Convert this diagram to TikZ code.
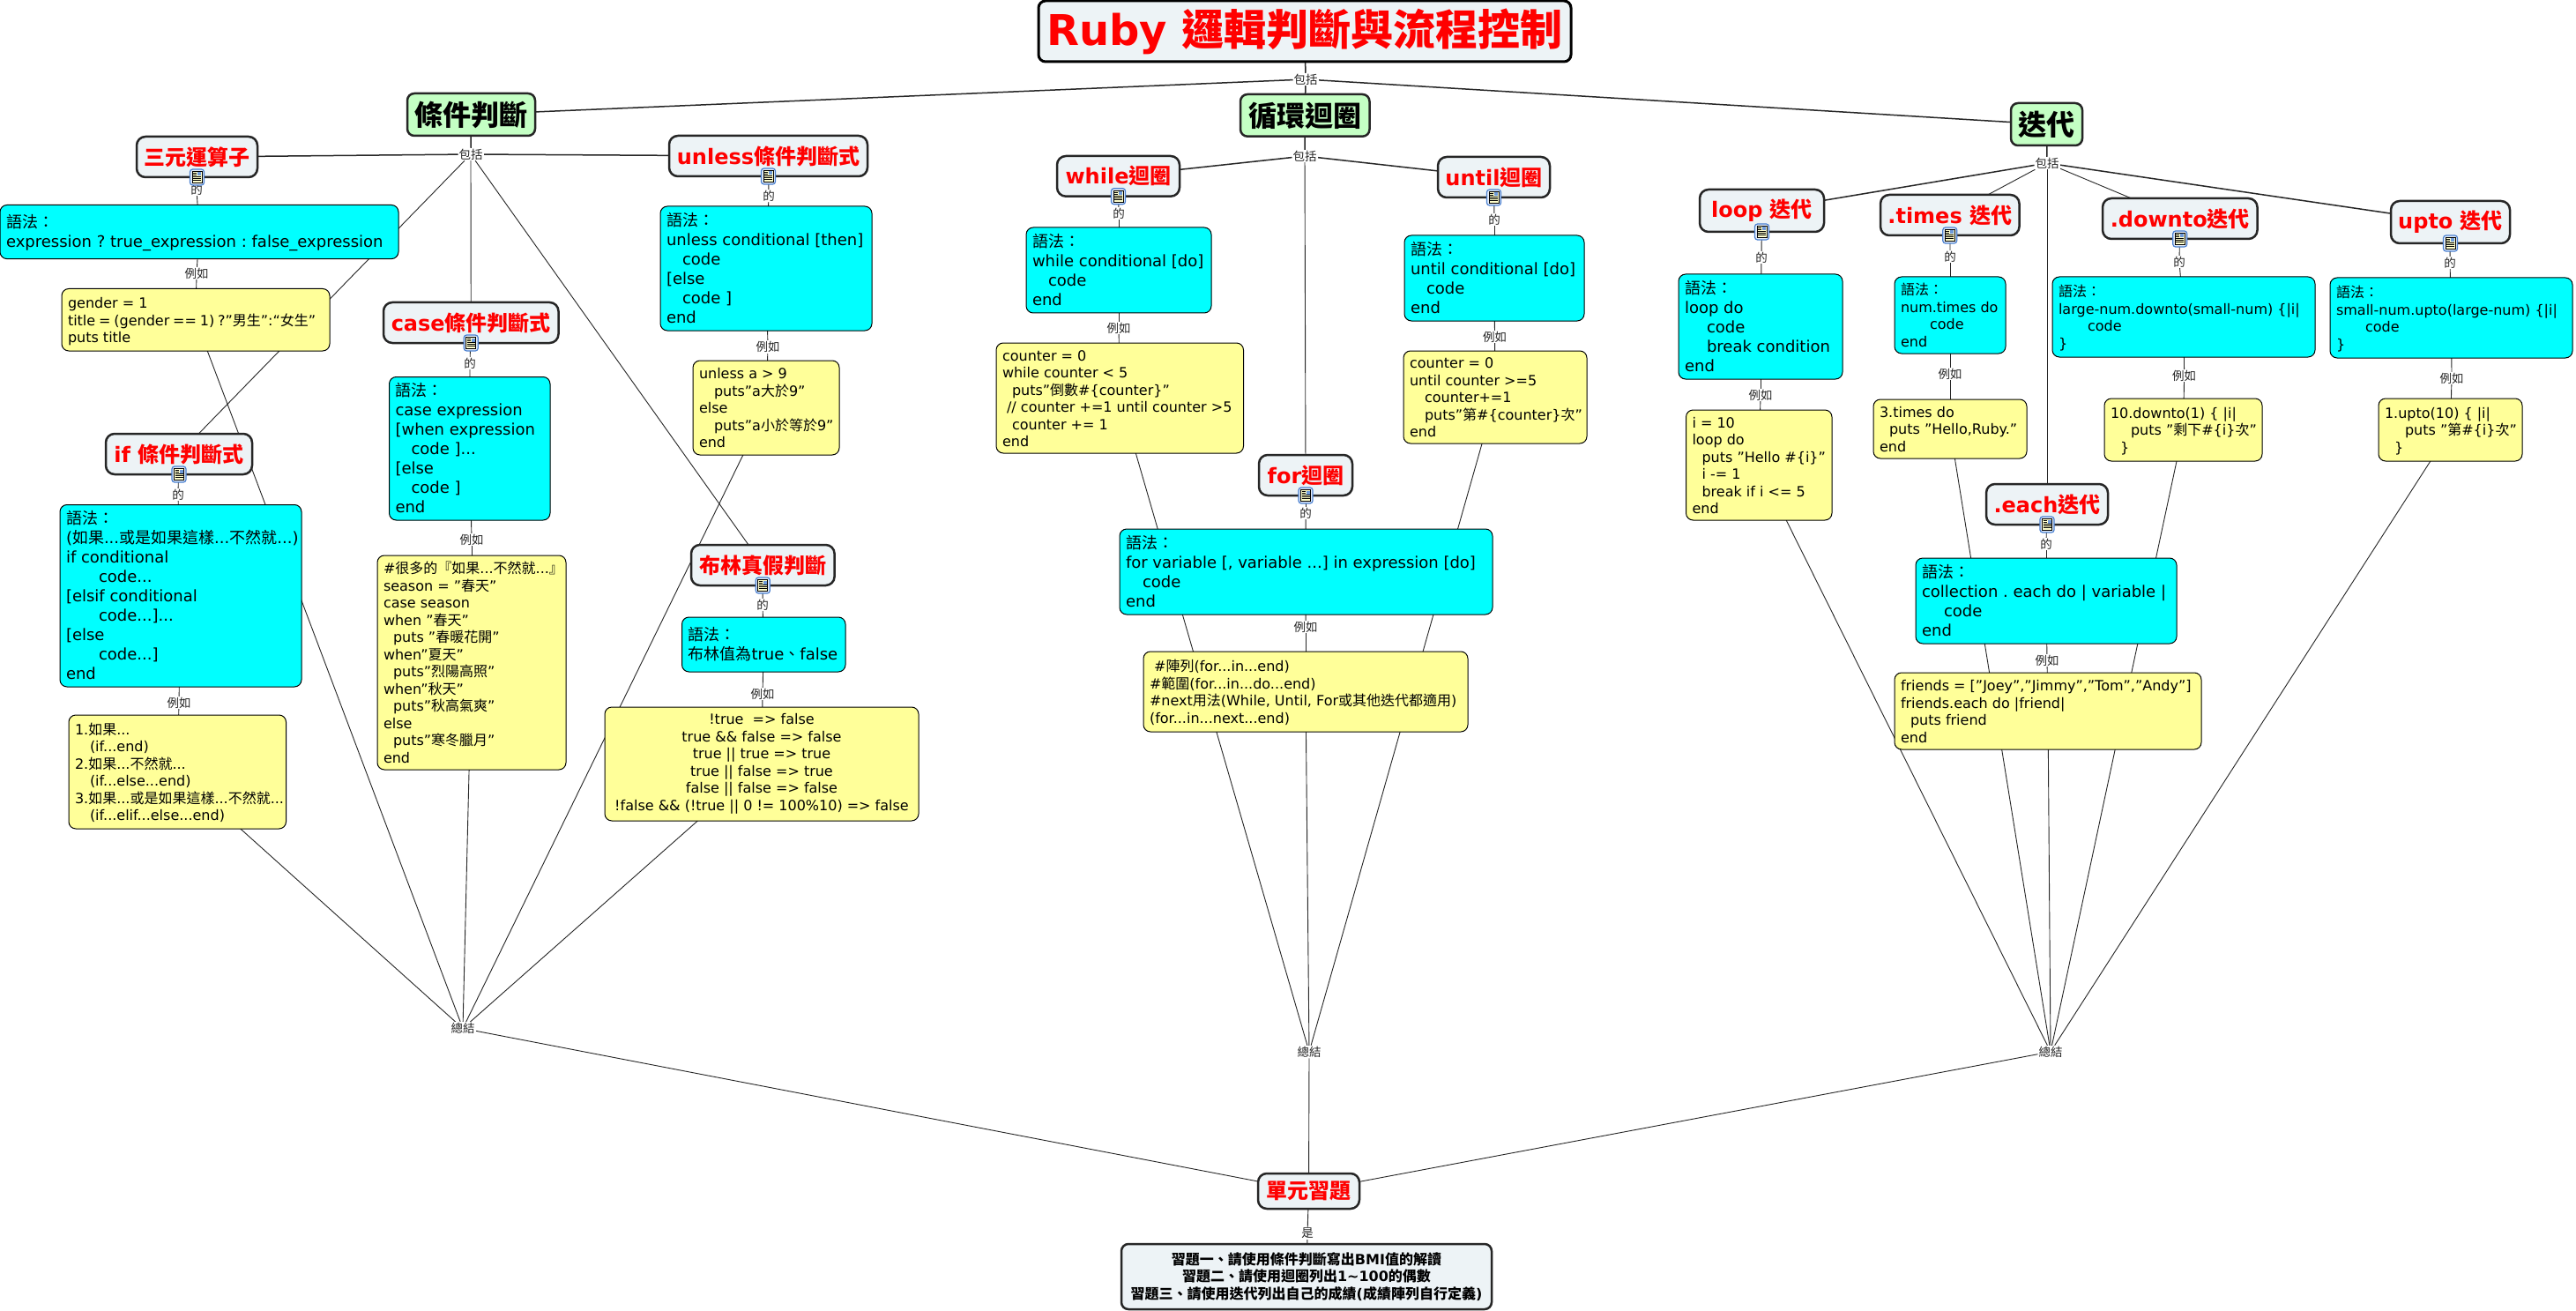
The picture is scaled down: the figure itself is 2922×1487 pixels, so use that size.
\documentclass[tikz,border=0pt]{standalone}
\usepackage{fontspec}
\usetikzlibrary{backgrounds}
\setmainfont{DejaVu Sans}
\newfontfamily\zhf{Noto Sans CJK TC}
\newcommand\Z[1]{{\zhf #1}}
\newsavebox\lblbox
\definecolor{palebox}{HTML}{EDF3F6}
\definecolor{greenbox}{HTML}{C4FFC4}
\definecolor{yelbox}{HTML}{FFFF99}
\definecolor{cybox}{HTML}{00FFFF}
\definecolor{iconblue}{HTML}{4A80D0}
\tikzset{
  base/.style={rectangle,outer sep=0pt,inner ysep=0pt,inner xsep=7pt},
  ttl/.style={base,draw=black,line width=3pt,rounded corners=8pt,fill=palebox,text=red,align=center,font=\fontsize{48}{52}\selectfont\bfseries},
  grn/.style={base,draw=black!85,line width=2.5pt,rounded corners=8pt,fill=greenbox,text=black,align=center,font=\fontsize{32}{36}\selectfont\bfseries},
  redb/.style={base,draw=black!85,line width=2.5pt,rounded corners=10pt,fill=palebox,text=red,align=center,font=\fontsize{24}{28}\selectfont\bfseries},
  cyb/.style={base,draw=black,line width=1pt,rounded corners=8pt,fill=cybox,text=black,font=\fontsize{18}{22}\selectfont\frenchspacing},
  cybs/.style={cyb,font=\fontsize{16}{19.5}\selectfont\frenchspacing},
  yel/.style={base,draw=black,line width=1pt,rounded corners=8pt,fill=yelbox,text=black,font=\fontsize{16}{19.5}\selectfont\frenchspacing},
  yelc/.style={yel,align=center},
  exb/.style={base,draw=black!85,line width=2.5pt,rounded corners=8pt,fill=palebox,text=black,align=center,font=\fontsize{16}{19.5}\selectfont\bfseries},
  phr/.style={rectangle,fill=white,inner sep=1pt,outer sep=0pt,text=black!85,font=\fontsize{13.5}{15}\selectfont\zhf},
  conn/.style={draw=black!85,line width=.9pt},
  thickconn/.style={draw=black!85,line width=1.5pt},
}
% name, style, x1, y1, x2, y2, text
\newcommand\bx[7]{%
  \pgfmathsetmacro\cxv{(#3+#5)/2}%
  \pgfmathsetmacro\cyv{(#4+#6)/2}%
  \pgfmathsetmacro\wv{#5-#3}%
  \pgfmathsetmacro\hv{#6-#4}%
  \pgfmathsetmacro\twv{#5-#3-14}%
  \node[#2,minimum width=\wv pt,minimum height=\hv pt] (#1) at (\cxv,\cyv) {\sbox\lblbox{\begin{tabular}{@{}l@{}}#7\end{tabular}}\makebox[\twv pt][l]{\raisebox{0pt}[\dimexpr\ht\lblbox+5pt\relax][\dp\lblbox]{\usebox\lblbox}}};%
}
\newcommand\bc[7]{%
  \pgfmathsetmacro\cxv{(#3+#5)/2}%
  \pgfmathsetmacro\cyv{(#4+#6)/2}%
  \pgfmathsetmacro\wv{#5-#3}%
  \pgfmathsetmacro\hv{#6-#4}%
  \node[#2,minimum width=\wv pt,minimum height=\hv pt] (#1) at (\cxv,\cyv) {#7};%
}
\newcommand\lk[4]{\node[phr] (#1) at (#2,#3) {#4};}
\newcommand\docicon[1]{%
  \begin{scope}[shift={(#1.south)}]
    \draw[fill=iconblue!15,draw=iconblue,line width=1.2pt,rounded corners=3pt] (-8,-9) rectangle (8,9);
    \draw[fill=yelbox!50,draw=black,line width=.7pt] (-5.5,-6.5) rectangle (5.5,6.5);
    \fill[iconblue!80] (.5,-5.5) rectangle (4.5,-1.5);
    \draw[black,line width=.5pt] (-4.5,-4.5)--(-.5,-4.5) (-4.5,-2.5)--(-.5,-2.5) (-4.5,-.5)--(4.5,-.5) (-4.5,1.5)--(4.5,1.5) (-4.5,3.5)--(4.5,3.5);
  \end{scope}}
\newcommand\ind[1]{\hspace*{#1pt}}
\begin{document}
\begin{tikzpicture}[x=1pt,y=-1pt]
\useasboundingbox (0,0) rectangle (2922,1487);
% main boxes
\bc{title}{ttl}{1178}{1}{1782}{70}{Ruby \Z{邏輯判斷與流程控制}}
\bc{cond}{grn}{462}{106}{607}{154}{\Z{條件判斷}}
\bc{loopm}{grn}{1407}{107}{1553.5}{154.7}{\Z{循環迴圈}}
\bc{iter}{grn}{2281}{117}{2362}{165}{\Z{迭代}}
% red nodes
\bc{tern}{redb}{155}{155}{292}{201}{\Z{三元運算子}}
\bc{unless}{redb}{759}{154}{984}{200}{unless\Z{條件判斷式}}
\bc{case}{redb}{435}{343}{633.5}{389}{case\Z{條件判斷式}}
\bc{if}{redb}{120}{492}{286}{538}{if \Z{條件判斷式}}
\bc{bool}{redb}{784}{618}{946.6}{664}{\Z{布林真假判斷}}
\bc{while}{redb}{1199}{177}{1338}{222.7}{while\Z{迴圈}}
\bc{until}{redb}{1631}{178}{1758}{224}{until\Z{迴圈}}
\bc{for}{redb}{1428}{516}{1534}{562}{for\Z{迴圈}}
\bc{lp}{redb}{1928}{215}{2069}{263}{loop \Z{迭代}}
\bc{times}{redb}{2133}{221}{2290.5}{267}{.times \Z{迭代}}
\bc{downto}{redb}{2385}{225}{2560.5}{271}{.downto\Z{迭代}}
\bc{upto}{redb}{2712}{228}{2847}{276}{upto \Z{迭代}}
\bc{each}{redb}{2253}{549}{2391}{595}{.each\Z{迭代}}
\bc{unit}{redb}{1427}{1331}{1542}{1371}{\Z{單元習題}}
% cyan boxes
\bx{ternb}{cyb}{0}{232.5}{452}{293.6}{\Z{語法：}\\expression ? true\_expression : false\_expression}
\bx{unlessb}{cyb}{749}{234}{989}{375}{\Z{語法：}\\unless conditional {[}then{]}\\\ind{18}code\\{[}else\\\ind{18}code {]}\\end}
\bx{caseb}{cyb}{441.5}{427.5}{624}{590}{\Z{語法：}\\case expression\\{[}when expression\\\ind{18}code {]}...\\{[}else\\\ind{18}code {]}\\end}
\bx{ifb}{cyb}{68}{572.5}{342}{779}{\Z{語法：}\\(\Z{如果}...\Z{或是如果這樣}...\Z{不然就}...)\\if conditional\\\ind{37}code...\\{[}elsif conditional\\\ind{37}code...{]}...\\{[}else\\\ind{37}code...{]}\\end}
\bx{boolb}{cyb}{773.5}{700}{959}{762}{\Z{語法：}\\\Z{布林值為}true\Z{、}false}
\bx{whileb}{cyb}{1164}{258}{1374}{355}{\Z{語法：}\\while conditional {[}do{]}\\\ind{18}code\\end}
\bx{untilb}{cyb}{1593}{267}{1797}{364}{\Z{語法：}\\until conditional {[}do{]}\\\ind{18}code\\end}
\bx{forb}{cyb}{1270}{600}{1693}{697}{\Z{語法：}\\for variable {[}, variable ...{]} in expression {[}do{]}\\\ind{19}code\\end}
\bx{lpb}{cyb}{1904}{311}{2090}{430}{\Z{語法：}\\loop do\\\ind{25}code\\\ind{25}break condition\\end}
\bx{timesb}{cybs}{2149}{314}{2275}{401}{\Z{語法：}\\num.times do\\\ind{33}code\\end}
\bx{downtob}{cybs}{2328}{314}{2626}{405}{\Z{語法：}\\large-num.downto(small-num) \{|i|\\\ind{33}code\\\}}
\bx{uptob}{cybs}{2643}{315}{2918}{406}{\Z{語法：}\\small-num.upto(large-num) \{|i|\\\ind{33}code\\\}}
\bx{eachb}{cyb}{2173}{633}{2469}{730}{\Z{語法：}\\collection . each do | variable |\\\ind{25}code\\end}
% yellow boxes
\bx{ternY}{yel}{70}{327.5}{374}{398}{gender = 1\\{\spaceskip=.24em title = (gender == 1) ?”\Z{男生}”:“\Z{女生}”}\\puts title}
\bx{unlessY}{yel}{786}{409}{952}{516}{unless a > 9\\\ind{17}puts"a\Z{大於}9"\\else\\\ind{17}puts"a\Z{小於等於}9"\\end}
\bx{caseY}{yel}{428}{630}{642}{873}{\#\Z{很多的『如果}...\Z{不然就}...\Z{』}\\season = "\Z{春天}"\\case season\\when "\Z{春天}"\\\ind{11}puts "\Z{春暖花開}"\\when"\Z{夏天}"\\\ind{11}puts"\Z{烈陽高照}"\\when"\Z{秋天}"\\\ind{11}puts"\Z{秋高氣爽}"\\else\\\ind{11}puts"\Z{寒冬臘月}"\\end}
\bx{ifY}{yel}{78}{811}{324.5}{940}{1.\Z{如果}...\\\ind{17}(if...end)\\2.\Z{如果}...\Z{不然就}...\\\ind{17}(if...else...end)\\3.\Z{如果}...\Z{或是如果這樣}...\Z{不然就}...\\\ind{17}(if...elif...else...end)}
\bc{boolY}{yelc}{686}{802}{1042}{931}{!true~~=> false\\true \&\& false => false\\true || true => true\\true || false => true\\false || false => false\\!false \&\& (!true || 0 != 100\%10) => false}
\bx{whileY}{yel}{1130}{389}{1410.5}{514}{counter = 0\\while counter < 5\\\ind{11}puts”\Z{倒數}\#\{counter\}”\\~// counter +=1 until counter >5\\\ind{11}counter += 1\\end}
\bx{untilY}{yel}{1592}{398}{1800}{503}{counter = 0\\until counter >=5\\\ind{17}counter+=1\\\ind{17}puts"\Z{第}\#\{counter\}\Z{次}"\\end}
\bx{forY}{yel}{1297}{739}{1665}{830}{~\#\Z{陣列}(for...in...end)\\\#\Z{範圍}(for...in...do...end)\\\#next\Z{用法}(While, Until, For\Z{或其他迭代都適用})\\(for...in...next...end)}
\bx{lpY}{yel}{1912.5}{465}{2078}{590}{i = 10\\loop do\\\ind{11}puts "Hello \#\{i\}"\\\ind{11}i -= 1\\\ind{11}break if i <= 5\\end}
\bx{timesY}{yel}{2125}{453}{2299}{520}{3.times do\\\ind{11}puts "Hello,Ruby."\\end}
\bx{downtoY}{yel}{2387}{452}{2566}{523}{10.downto(1) \{ |i|\\\ind{23}puts "\Z{剩下}\#\{i\}\Z{次}"\\\ind{11}\}}
\bx{uptoY}{yel}{2698}{452}{2861}{523}{1.upto(10) \{ |i|\\\ind{23}puts "\Z{第}\#\{i\}\Z{次}"\\\ind{11}\}}
\bx{eachY}{yel}{2149}{763}{2497}{850}{friends = {[}"Joey","Jimmy","Tom","Andy"{]}\\friends.each do |friend|\\\ind{11}puts friend\\end}
\bc{exer}{exb}{1272}{1411}{1692}{1485}{\Z{習題一、請使用條件判斷寫出}BMI\Z{值的解讀}\\\Z{習題二、請使用迴圈列出}1\textasciitilde100\Z{的偶數}\\\Z{習題三、請使用迭代列出自己的成績}(\Z{成績陣列自行定義})}
% link phrases
\lk{mainInc}{1481}{90}{包括}
\lk{condInc}{534}{175}{包括}
\lk{loopInc}{1480}{177}{包括}
\lk{iterInc}{2322}{185}{包括}
\lk{tD}{223}{215}{的}\lk{tE}{223}{310}{例如}
\lk{uD}{872}{222}{的}\lk{uE}{871}{393.5}{例如}
\lk{cD}{533}{412}{的}\lk{cE}{535}{612}{例如}
\lk{iD}{202}{561}{的}\lk{iE}{203}{797}{例如}
\lk{bD}{865}{686}{的}\lk{bE}{865}{787}{例如}
\lk{wD}{1269}{242}{的}\lk{wE}{1269}{372}{例如}
\lk{nD}{1695}{249}{的}\lk{nE}{1695.5}{382}{例如}
\lk{fD}{1481}{582}{的}\lk{fE}{1481}{711}{例如}
\lk{lD}{1998}{292}{的}\lk{lE}{1997}{448}{例如}
\lk{mD}{2212}{291}{的}\lk{mE}{2212}{424}{例如}
\lk{dD}{2472}{297}{的}\lk{dE}{2477.6}{426}{例如}
\lk{pD}{2779}{298}{的}\lk{pE}{2781}{429}{例如}
\lk{aD}{2321}{617}{的}\lk{aE}{2322}{749}{例如}
\lk{sumL}{525}{1166.5}{總結}
\lk{sumM}{1485}{1193}{總結}
\lk{sumR}{2326}{1193}{總結}
\lk{isL}{1483}{1399}{是}
% icons
\docicon{tern}\docicon{unless}\docicon{case}\docicon{if}\docicon{bool}
\docicon{while}\docicon{until}\docicon{for}
\docicon{lp}\docicon{times}\docicon{downto}\docicon{upto}\docicon{each}
% connectors
\begin{scope}[on background layer]
\fill[white] (0,0) rectangle (2922,1487);
\foreach \a/\b in {title/mainInc,mainInc/cond,mainInc/loopm,mainInc/iter,
  cond/condInc,condInc/tern,condInc/unless,
  loopm/loopInc,loopInc/while,loopInc/until,
  iter/iterInc,iterInc/lp,iterInc/upto}
  \draw[thickconn] (\a) -- (\b);
\foreach \a/\b in {condInc/if,condInc/case,condInc/bool,loopInc/for,
  iterInc/times,iterInc/downto,iterInc/each,
  tern/tD,tD/ternb,ternb/tE,tE/ternY,
  unless/uD,uD/unlessb,unlessb/uE,uE/unlessY,
  case/cD,cD/caseb,caseb/cE,cE/caseY,
  if/iD,iD/ifb,ifb/iE,iE/ifY,
  bool/bD,bD/boolb,boolb/bE,bE/boolY,
  while/wD,wD/whileb,whileb/wE,wE/whileY,
  until/nD,nD/untilb,untilb/nE,nE/untilY,
  for/fD,fD/forb,forb/fE,fE/forY,
  lp/lD,lD/lpb,lpb/lE,lE/lpY,
  times/mD,mD/timesb,timesb/mE,mE/timesY,
  downto/dD,dD/downtob,downtob/dE,dE/downtoY,
  upto/pD,pD/uptob,uptob/pE,pE/uptoY,
  each/aD,aD/eachb,eachb/aE,aE/eachY,
  ternY/sumL,ifY/sumL,caseY/sumL,unlessY/sumL,boolY/sumL,
  whileY/sumM,forY/sumM,untilY/sumM,
  lpY/sumR,timesY/sumR,eachY/sumR,downtoY/sumR,uptoY/sumR,
  sumL/unit,sumM/unit,sumR/unit,unit/isL,isL/exer}
  \draw[conn] (\a) -- (\b);
\end{scope}
\end{tikzpicture}
\end{document}
